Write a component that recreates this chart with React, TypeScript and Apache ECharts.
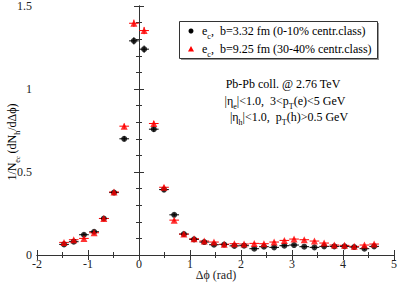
import React, { useEffect, useRef } from "react";
import * as echarts from "echarts";

const xVals = [-1.47, -1.28, -1.08, -0.88, -0.69, -0.49, -0.29, -0.1, 0.1, 0.29, 0.49, 0.69, 0.88, 1.08, 1.28, 1.47, 1.67, 1.87, 2.06, 2.26, 2.45, 2.65, 2.85, 3.04, 3.24, 3.44, 3.63, 3.83, 4.03, 4.22, 4.42, 4.61];
const central = [0.064, 0.08, 0.122, 0.14, 0.22, 0.376, 0.7, 1.29, 1.24, 0.758, 0.394, 0.242, 0.126, 0.094, 0.078, 0.062, 0.063, 0.055, 0.056, 0.038, 0.05, 0.046, 0.056, 0.06, 0.05, 0.046, 0.052, 0.052, 0.052, 0.048, 0.038, 0.052];
const centralErr = [0.008, 0.008, 0.009, 0.01, 0.01, 0.012, 0.016, 0.022, 0.022, 0.016, 0.012, 0.01, 0.009, 0.008, 0.008, 0.007, 0.007, 0.007, 0.007, 0.007, 0.007, 0.007, 0.007, 0.007, 0.007, 0.007, 0.007, 0.007, 0.007, 0.007, 0.007, 0.007];
const peripheral = [0.076, 0.092, 0.1, 0.134, 0.22, 0.38, 0.776, 1.396, 1.352, 0.792, 0.408, 0.21, 0.126, 0.098, 0.084, 0.078, 0.065, 0.068, 0.066, 0.07, 0.068, 0.078, 0.088, 0.096, 0.092, 0.084, 0.072, 0.06, 0.058, 0.052, 0.06, 0.066];
const peripheralErr = [0.008, 0.008, 0.009, 0.01, 0.01, 0.012, 0.016, 0.022, 0.022, 0.016, 0.012, 0.01, 0.009, 0.008, 0.008, 0.007, 0.007, 0.007, 0.007, 0.007, 0.007, 0.007, 0.007, 0.007, 0.007, 0.007, 0.007, 0.007, 0.007, 0.007, 0.007, 0.007];
const binHalfWidth = 0.095;

const seriesNames = ["e_c, b=3.32 fm (0-10% centr.class)", "e_c, b=9.25 fm (30-40% centr.class)"];
const xTitle = "Δϕ (rad)";

const FONT = "'Liberation Serif', 'Times New Roman', serif";
const AX = "#333";

function errData(vals: number[], errs: number[]) {
  return xVals.map((x, i) => [x, vals[i], binHalfWidth, errs[i]]);
}

function errSeries(name: string, vals: number[], errs: number[], color: string) {
  return {
    type: "custom",
    name: name + " err",
    data: errData(vals, errs),
    silent: true,
    renderItem: (params: any, api: any) => {
      const x = api.value(0);
      const y = api.value(1);
      const ex = api.value(2);
      const ey = api.value(3);
      const a = api.coord([x - ex, y]);
      const b = api.coord([x + ex, y]);
      const c = api.coord([x, y - ey]);
      const d = api.coord([x, y + ey]);
      return {
        type: "group",
        children: [
          { type: "line", shape: { x1: a[0], y1: a[1], x2: b[0], y2: b[1] }, style: { stroke: color, lineWidth: 1 } },
          { type: "line", shape: { x1: c[0], y1: c[1], x2: d[0], y2: d[1] }, style: { stroke: color, lineWidth: 1 } },
        ],
      };
    },
  };
}

const axisCommon = {
  axisLine: { show: true, lineStyle: { color: AX, width: 1 } },
  axisTick: { show: true, inside: true, length: 5, lineStyle: { color: AX } },
  minorTick: { show: true, length: 3, lineStyle: { color: AX } },
  splitLine: { show: false },
  minorSplitLine: { show: false },
};

export default function App() {
  const ref = useRef<HTMLDivElement>(null);
  useEffect(() => {
    if (!ref.current) return;
    const chart = echarts.init(ref.current, null, { renderer: "svg" });
    const rich = {
      a: { fontSize: 12, fontFamily: FONT, lineHeight: 18, color: "#000" },
      s: { fontSize: 8, fontFamily: FONT, lineHeight: 11, verticalAlign: "bottom", color: "#000" },
      ss: { fontSize: 6, fontFamily: FONT, lineHeight: 6, verticalAlign: "bottom", color: "#000" },
    };
    chart.setOption({
      animation: false,
      textStyle: { fontFamily: FONT },
      grid: { left: 37, right: 5, top: 6, bottom: 27, containLabel: false, outerBoundsMode: "none" },
      xAxis: [
        {
          type: "value", min: -2, max: 5, interval: 1, position: "bottom",
          ...axisCommon,
          minorTick: { ...axisCommon.minorTick, splitNumber: 2 },
          axisLabel: { color: "#222", fontSize: 12, fontFamily: FONT, margin: 3 },
        },
        {
          type: "value", min: -2, max: 5, interval: 1, position: "top",
          ...axisCommon,
          minorTick: { ...axisCommon.minorTick, splitNumber: 2 },
          axisLabel: { show: false },
        },
      ],
      yAxis: [
        {
          type: "value", min: 0, max: 1.5, interval: 0.5, position: "left",
          ...axisCommon,
          minorTick: { ...axisCommon.minorTick, splitNumber: 5 },
          axisLabel: { color: "#222", fontSize: 12, fontFamily: FONT, margin: 5 },
        },
        {
          type: "value", min: 0, max: 1.5, interval: 0.5, position: "right",
          ...axisCommon,
          minorTick: { ...axisCommon.minorTick, splitNumber: 5 },
          axisLabel: { show: false },
        },
      ],
      series: [
        errSeries(seriesNames[0], central, centralErr, "#000"),
        {
          type: "scatter", name: seriesNames[0], symbol: "circle", symbolSize: 6,
          itemStyle: { color: "#000" },
          data: xVals.map((x, i) => [x, central[i]]),
        },
        errSeries(seriesNames[1], peripheral, peripheralErr, "#ff0000"),
        {
          type: "scatter", name: seriesNames[1], symbol: "triangle", symbolSize: 7,
          itemStyle: { color: "#ff0000" },
          data: xVals.map((x, i) => [x, peripheral[i]]),
        },
      ],
      graphic: [
        {
          type: "text", x: 12, y: 142, rotation: Math.PI / 2,
          style: {
            text: "{a|1/N}{s|e}{ss|c}{a| (dN}{s|h}{a|/dΔϕ)}",
            rich, align: "center", verticalAlign: "middle",
          },
        },
        {
          type: "text", x: 216, y: 275,
          style: { text: xTitle, fontSize: 12, fontFamily: FONT, fill: "#222", align: "center", verticalAlign: "middle" },
        },
        { type: "rect", shape: { x: 181, y: 23, width: 198, height: 37 }, style: { fill: "#999" }, z: 10 },
        { type: "rect", shape: { x: 179.5, y: 21.5, width: 198, height: 37 }, style: { fill: "#fff", stroke: "#333", lineWidth: 1 }, z: 11 },
        { type: "circle", shape: { cx: 191, cy: 31, r: 2.5 }, style: { fill: "#000" }, z: 12 },
        { type: "polygon", shape: { points: [[191, 46], [188, 51.5], [194, 51.5]] }, style: { fill: "#ff0000" }, z: 12 },
        {
          type: "text", x: 202, y: 31, z: 12,
          style: { text: "{a|e}{s|c}{a|,  b=3.32 fm (0-10% centr.class)}", rich, verticalAlign: "middle" },
        },
        {
          type: "text", x: 202, y: 49, z: 12,
          style: { text: "{a|e}{s|c}{a|,  b=9.25 fm (30-40% centr.class)}", rich, verticalAlign: "middle" },
        },
        {
          type: "text", x: 283, y: 84, z: 12,
          style: { text: "{a|Pb-Pb coll. @ 2.76 TeV}", rich, align: "center", verticalAlign: "middle" },
        },
        {
          type: "text", x: 285, y: 101, z: 12,
          style: { text: "{a||η}{s|e}{a||<1.0,  3<p}{s|T}{a|(e)<5 GeV}", rich, align: "center", verticalAlign: "middle" },
        },
        {
          type: "text", x: 289, y: 117, z: 12,
          style: { text: "{a||η}{s|h}{a||<1.0,  p}{s|T}{a|(h)>0.5 GeV}", rich, align: "center", verticalAlign: "middle" },
        },
      ],
    });
    return () => chart.dispose();
  }, []);
  return <div ref={ref} style={{ width: 399, height: 282, position: "absolute", left: 0, top: 0, background: "#fff" }} />;
}
